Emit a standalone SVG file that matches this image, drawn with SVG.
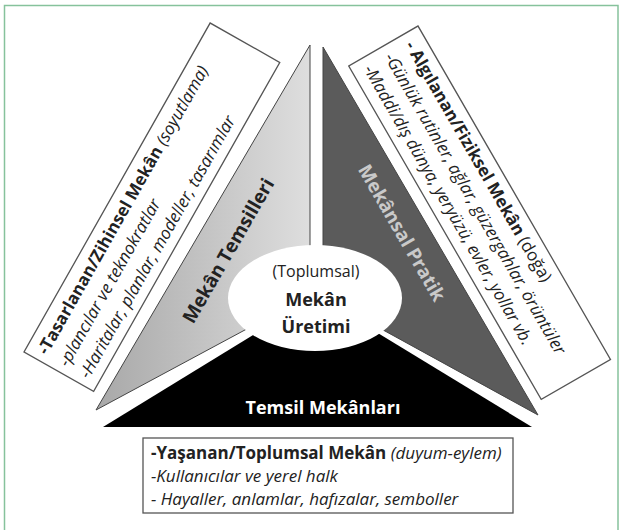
<svg xmlns="http://www.w3.org/2000/svg" width="621" height="530" viewBox="0 0 621 530">
<style>
.t{font-family:"Open Sans","Liberation Sans",sans-serif;fill:#222}
.b{font-weight:bold}
.i{font-style:italic}
.box{fill:#fff;stroke:#555;stroke-width:1.3}
.tri{stroke:#444;stroke-width:1}
</style>
<defs>
<linearGradient id="gl" x1="96" y1="0" x2="310" y2="0" gradientUnits="userSpaceOnUse">
<stop offset="0" stop-color="#a8a8a8"/><stop offset="1" stop-color="#dedede"/>
</linearGradient>
</defs>
<rect x="0" y="0" width="621" height="530" fill="#fff"/>
<rect x="4.5" y="5.5" width="613.5" height="540" fill="none" stroke="#86c29c" stroke-width="1.5"/>

<g id="node-left-triangle">
<polygon class="tri" points="310,45 310,295 96,410" fill="url(#gl)"/>
<text class="t b" font-size="19" text-anchor="middle" transform="translate(234,254) rotate(-60)">Mekân Temsilleri</text>
</g>
<g id="node-right-triangle">
<polygon class="tri" points="323,47 538,415 323,297" fill="#5b5b5b"/>
<text class="t b" font-size="19" text-anchor="middle" style="fill:#c9c9c9" transform="translate(396,236) rotate(60)">Mekânsal Pratik</text>
</g>
<g id="node-bottom-triangle">
<polygon points="103,427 532,427 317,296" fill="#000"/>
<text class="t b" font-size="18" text-anchor="middle" style="fill:#fff" x="323" y="414">Temsil Mekânları</text>
</g>
<g id="node-center">
<ellipse cx="315" cy="298" rx="87" ry="53" fill="#fff"/>
<text class="t" font-size="16" text-anchor="middle" x="316" y="277">(Toplumsal)</text>
<text class="t b" font-size="18" text-anchor="middle" x="316" y="306">Mekân</text>
<text class="t b" font-size="18" text-anchor="middle" x="316" y="333">Üretimi</text>
</g>

<g id="node-left-box" transform="translate(24,352) rotate(-60.5)">
<rect class="box" x="0" y="0" width="378" height="80"/>
<text class="t" font-size="17" x="8" y="22"><tspan class="b">-Tasarlanan/Zihinsel  Mekân</tspan> <tspan class="i">(soyutlama)</tspan></text>
<text class="t i" font-size="17" x="8" y="46">-plancılar ve teknokratlar</text>
<text class="t i" font-size="17" x="8" y="70">-Haritalar, planlar, modeller, tasarımlar</text>
</g>

<g id="node-right-box" transform="translate(418,26) rotate(60)">
<rect class="box" x="0" y="0" width="385" height="80"/>
<text class="t" font-size="17" x="10" y="21"><tspan class="b">- Algılanan/Fiziksel Mekân</tspan> (doğa)</text>
<text class="t i" font-size="17" x="10" y="45">-Günlük rutinler, ağlar, güzergahlar, örüntüler</text>
<text class="t i" font-size="17" x="10" y="69">-Maddi/dış dünya, yeryüzü, evler, yollar vb.</text>
</g>

<g id="node-bottom-box">
<rect class="box" x="143" y="438" width="370" height="75"/>
<text class="t" font-size="17" x="151" y="459"><tspan class="b">-Yaşanan/Toplumsal  Mekân</tspan> <tspan class="i">(duyum-eylem)</tspan></text>
<text class="t i" font-size="17" x="151" y="482">-Kullanıcılar ve yerel halk</text>
<text class="t i" font-size="17" x="151" y="505">- Hayaller, anlamlar, hafızalar, semboller</text>
</g>
<g id="connectors"></g>
</svg>
